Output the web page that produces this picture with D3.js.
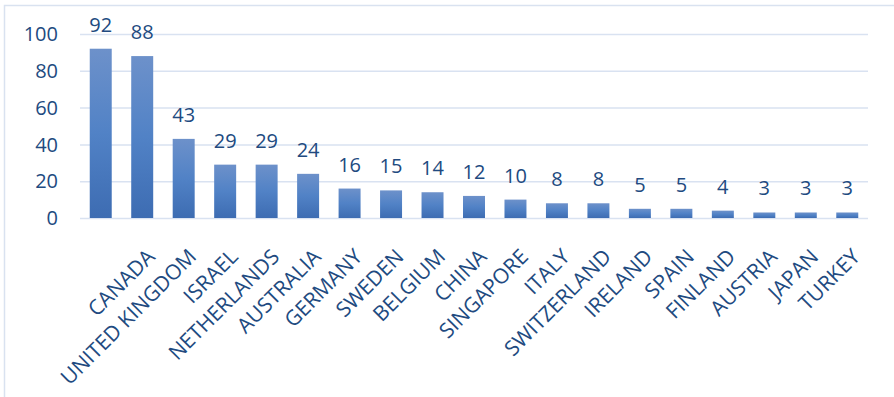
<!DOCTYPE html>
<html>
<head>
<meta charset="utf-8">
<script src="https://cdn.jsdelivr.net/npm/d3@7"></script>
<style>
  body { margin: 0; background: #fff; overflow: hidden; }
  svg { display: block; }
  .grid line { stroke: #d9e2f1; stroke-width: 1.5; }
  .grid .domain { display: none; }
  text { font-family: 'Open Sans', sans-serif; fill: #214a80; }
</style>
</head>
<body>
<div id="chart"></div>
<script>
// Chart data - first category has no label in the original
const categories = ['', 'CANADA', 'UNITED KINGDOM', 'ISRAEL', 'NETHERLANDS', 'AUSTRALIA',
  'GERMANY', 'SWEDEN', 'BELGIUM', 'CHINA', 'SINGAPORE', 'ITALY', 'SWITZERLAND',
  'IRELAND', 'SPAIN', 'FINLAND', 'AUSTRIA', 'JAPAN', 'TURKEY']
const values = [92, 88, 43, 29, 29, 24, 16, 15, 14, 12, 10, 8, 8, 5, 5, 4, 3, 3, 3]
const yTicks = [0, 20, 40, 60, 80, 100]

const width = 894
const height = 397
const margin = { top: 34, right: 26, bottom: 179, left: 80 }
const innerWidth = width - margin.left - margin.right
const innerHeight = height - margin.top - margin.bottom

const svg = d3.select('#chart')
  .append('svg')
  .attr('width', width)
  .attr('height', height)

// Gradient for the bars
const grad = svg.append('defs').append('linearGradient')
  .attr('id', 'barGrad')
  .attr('x1', 0).attr('y1', 0).attr('x2', 0).attr('y2', 1)
grad.append('stop').attr('offset', '0%').attr('stop-color', '#6d91ca')
grad.append('stop').attr('offset', '50%').attr('stop-color', '#5182c6')
grad.append('stop').attr('offset', '100%').attr('stop-color', '#3d6cb2')

// Chart frame (only top and left edges are visible)
svg.append('path')
  .attr('d', `M4.5,${height}V5.5H${width}`)
  .attr('fill', 'none')
  .attr('stroke', '#d9e2f0')
  .attr('stroke-width', 1.5)

const g = svg.append('g')
  .attr('transform', `translate(${margin.left}, ${margin.top})`)

const xScale = d3.scaleBand()
  .domain(categories)
  .range([0, innerWidth])
  .paddingInner(0.47)
  .paddingOuter(0.235)

const yScale = d3.scaleLinear()
  .domain([0, 100])
  .range([innerHeight, 0])

// Y gridlines
g.append('g')
  .attr('class', 'grid')
  .call(d3.axisLeft(yScale).tickValues(yTicks).tickSize(-innerWidth).tickFormat(''))

// Y tick labels
g.append('g')
  .selectAll('text')
  .data(yTicks)
  .join('text')
  .attr('x', -22)
  .attr('y', d => yScale(d))
  .attr('dy', '0.36em')
  .attr('text-anchor', 'end')
  .style('font-size', '20px')
  .text(d => d)

// Bars
g.append('g')
  .selectAll('rect')
  .data(values)
  .join('rect')
  .attr('x', (d, i) => xScale(categories[i]))
  .attr('y', d => yScale(d))
  .attr('width', xScale.bandwidth())
  .attr('height', d => innerHeight - yScale(d))
  .attr('fill', 'url(#barGrad)')

// Value labels
g.append('g')
  .selectAll('text')
  .data(values)
  .join('text')
  .attr('x', (d, i) => xScale(categories[i]) + xScale.bandwidth() / 2)
  .attr('y', d => yScale(d) - 17)
  .attr('text-anchor', 'middle')
  .style('font-size', '20px')
  .text(d => d)

// Category labels, rotated (skip the blank first one)
g.append('g')
  .selectAll('text')
  .data(categories.filter(d => d !== ''))
  .join('text')
  .attr('transform', d => `translate(${xScale(d) + xScale.bandwidth() / 2 + 14}, ${innerHeight + 40}) rotate(-45)`)
  .attr('text-anchor', 'end')
  .style('font-size', '21px')
  .text(d => d)
</script>
</body>
</html>
